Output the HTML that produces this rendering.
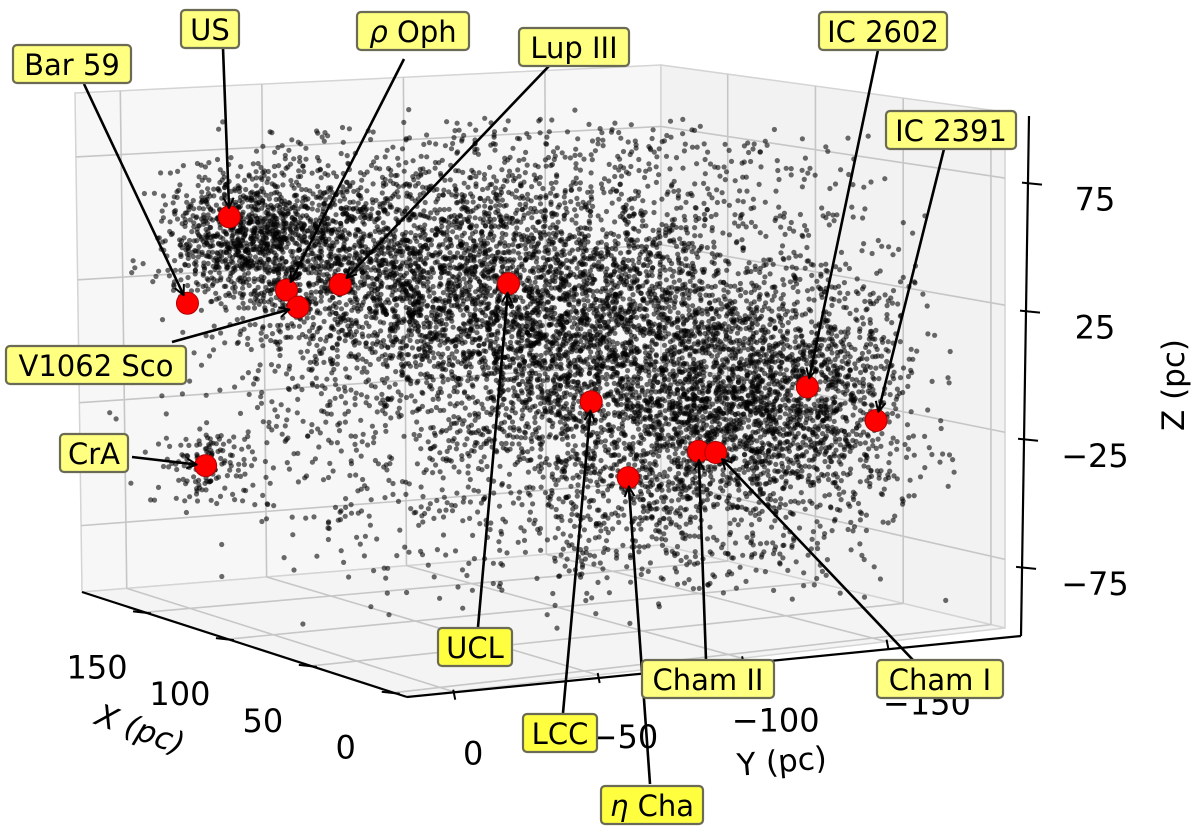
<!DOCTYPE html>
<html><head><meta charset="utf-8"><style>
html,body{margin:0;padding:0;background:#fff;}
svg{display:block;font-family:"DejaVu Sans","Liberation Sans",sans-serif;}
</style></head><body>
<svg id="chart" width="1200" height="835" viewBox="0 0 1200 835">
<defs>
<marker id="ah" viewBox="0 0 12 12" refX="11" refY="6" markerWidth="12" markerHeight="12" markerUnits="userSpaceOnUse" orient="auto">
<polyline points="1,1 11,6 1,11" fill="none" stroke="#000" stroke-width="2"/>
</marker>
</defs>
<g id="panes"></g>
<g id="grid"></g>
<g id="axes"></g>
<g id="stars"></g>
<g id="clusters"></g>
<g id="annots"></g>
</svg>
<script>
// ---- axis ranges ----
const xRange = [-8, 188];
const yRange = [-191, 16];
const zRange = [-102, 101];
const xTicks = [0, 50, 100, 150];
const yTicks = [0, -50, -100, -150];
const zTicks = [75, 25, -25, -75];
const xTickLabels = ["0", "50", "100", "150"];
const yTickLabels = ["0", "\u221250", "\u2212100", "\u2212150"];
const zTickLabels = ["75", "25", "\u221225", "\u221275"];

// ---- named clusters (pc) ----
const clusterNames = ["US","Bar 59","\u03c1 Oph","V1062 Sco","Lup III","CrA","UCL","LCC","\u03b7 Cha","Cham II","Cham I","IC 2602","IC 2391"];
const clusterX = [140, 140, 140, 140, 140, 140, 90, 90, 90, 41, 41, 41, 41];
const clusterY = [-9, 6, -29, -33, -48, 0, -77, -106, -119, -114, -120, -152, -176];
const clusterZ = [53, 20, 23, 16, 24, -44, 28, -20, -51, -33, -34, -11, -26];

// ---- stellar population components (pc) ----
const popX = [140, 130, 100, 80, 45, 40, 90, 140, 60, 90];
const popY = [-15, -45, -75, -100, -125, -150, -90, 0, -140, -100];
const popZ = [45, 35, 25, 5, -25, -8, 0, -44, -30, 30];
const popSigma = [13, 20, 26, 24, 24, 20, 60, 7, 34, 45];
const popCount = [800, 1100, 1300, 1300, 1100, 800, 2600, 120, 1000, 900];

// ---- projection (trilinear between box corners) ----
const cB0=[407,697], cA0=[82,592], cC0=[1005,628], cD0=[661,545];
const cB1=[412,110], cA1=[75,93], cC1=[1005,112], cD1=[661,65];
function proj(X,Y,Z){
  const u=(X-xRange[0])/(xRange[1]-xRange[0]);
  const v=(Y-yRange[0])/(yRange[1]-yRange[0]);
  const w=(Z-zRange[0])/(zRange[1]-zRange[0]);
  const bl=(P,Q,R,S)=>[0,1].map(i=>(1-u)*(1-v)*P[i]+u*(1-v)*Q[i]+(1-u)*v*R[i]+u*v*S[i]);
  const b=bl(cC0,cD0,cB0,cA0), t=bl(cC1,cD1,cB1,cA1);
  return [(1-w)*b[0]+w*t[0],(1-w)*b[1]+w*t[1]];
}
const NS="http://www.w3.org/2000/svg";
function mk(tag,attrs,parent){const e=document.createElementNS(NS,tag);for(const k in attrs)e.setAttribute(k,attrs[k]);parent.appendChild(e);return e;}
const gP=document.getElementById('panes'),gG=document.getElementById('grid'),gA=document.getElementById('axes'),
gS=document.getElementById('stars'),gC=document.getElementById('clusters'),gN=document.getElementById('annots');
const [x0,x1]=xRange,[y0,y1]=yRange,[z0,z1]=zRange;
function poly(pts,fill,parent,name){const e=mk('polygon',{points:pts.map(p=>p.join(',')).join(' '),fill:fill,stroke:'#d4d4d4','stroke-width':1.5},parent);

}
poly([proj(x1,y1,z0),proj(x1,y0,z0),proj(x1,y0,z1),proj(x1,y1,z1)],'#f7f7f7',gP,'left-pane');
poly([proj(x1,y0,z0),proj(x0,y0,z0),proj(x0,y0,z1),proj(x1,y0,z1)],'#f2f2f2',gP,'right-pane');
poly([proj(x1,y1,z0),proj(x0,y1,z0),proj(x0,y0,z0),proj(x1,y0,z0)],'#f4f4f4',gP,'floor-pane');
function line(p,q,stroke,sw,parent,name){const e=mk('line',{x1:p[0],y1:p[1],x2:q[0],y2:q[1],stroke:stroke,'stroke-width':sw},parent);

return e;}
const gc='#c6c6c6';
yTicks.forEach(y=>{line(proj(x1,y,z0),proj(x1,y,z1),gc,1.6,gG,'grid-left-vertical');line(proj(x1,y,z0),proj(x0,y,z0),gc,1.6,gG,'grid-floor-y');});
xTicks.forEach(x=>{line(proj(x,y0,z0),proj(x,y0,z1),gc,1.6,gG,'grid-right-vertical');line(proj(x,y1,z0),proj(x,y0,z0),gc,1.6,gG,'grid-floor-x');});
zTicks.forEach(z=>{line(proj(x1,y1,z),proj(x1,y0,z),gc,1.6,gG,'grid-left-horizontal');line(proj(x1,y0,z),proj(x0,y0,z),gc,1.6,gG,'grid-right-horizontal');});

// axes
line(proj(x1,y1,z0),proj(x0,y1,z0),'#000',2.2,gA,'x-axis-line');
line(proj(x0,y1,z0),[1021,636],'#000',2.2,gA,'y-axis-line');
line([1021,636],[1029,116],'#000',2.2,gA,'z-axis-line');
function txt(s,x,y,size,parent,name,extra){const e=mk('text',Object.assign({x:x,y:y,'font-size':size,'text-anchor':'middle','dominant-baseline':'central',fill:'#000'},extra||{}),parent);e.textContent=s;

return e;}
xTicks.forEach((x,i)=>{const p=proj(x,y1,z0);line([p[0]-12,p[1]-1],[p[0]+6,p[1]+1],'#000',2,gA,'x-tick');
txt(xTickLabels[i],p[0]-48,p[1]+55,32,gA,'x-tick-label');});
yTicks.forEach((y,i)=>{const p=proj(x0,y,z0);const v=(y-y0)/(y1-y0);line([p[0],p[1]-2],[p[0]+2,p[1]+8],'#000',2,gA,'y-tick');
txt(yTickLabels[i],p[0]+20+(0.923-v)*28,p[1]+62,32,gA,'y-tick-label');});
zTicks.forEach((z,i)=>{const t=(z-z0)/(z1-z0);const y=636-520*t,x=1021+8*t;line([x-6,y],[x+14,y+2],'#000',2,gA,'z-tick');
txt(zTickLabels[i],1095,y+17,32,gA,'z-tick-label');});
txt('X (pc)',140,730,31,gA,'x-axis-title',{transform:'rotate(20 140 730)','font-style':'italic'});
txt('Y (pc)',782,762,31,gA,'y-axis-title',{transform:'rotate(-5 782 762)'});
txt('Z (pc)',1174,385,31,gA,'z-axis-title',{transform:'rotate(-90 1174 385)'});

// stars
let seed=12345;
function rnd(){seed|=0;seed=seed+0x6D2B79F5|0;let t=Math.imul(seed^seed>>>15,1|seed);t=t+Math.imul(t^t>>>7,61|t)^t;return((t^t>>>14)>>>0)/4294967296;}
function gauss(){let u=0;while(u===0)u=rnd();return Math.sqrt(-2*Math.log(u))*Math.cos(2*Math.PI*rnd());}
let frag='';
for(let k=0;k<popX.length;k++){
  for(let n=0;n<popCount[k];n++){
    const X=popX[k]+gauss()*popSigma[k]*0.8,Y=popY[k]+gauss()*popSigma[k]*1.2,Z=popZ[k]+gauss()*popSigma[k];
    if(X<x0||X>x1||Y<y0+5||Y>y1||Z<z0+10||Z>z1-12)continue;
    const p=proj(X,Y,Z);
    frag+='<circle cx="'+p[0].toFixed(1)+'" cy="'+p[1].toFixed(1)+'" r="2.6"/>';
  }
}
gS.setAttribute('fill','rgba(0,0,0,0.58)');
gS.innerHTML=frag;

// clusters
const clusterPix=[];
clusterNames.forEach((nm,i)=>{const p=proj(clusterX[i],clusterY[i],clusterZ[i]);clusterPix.push(p);
const c=mk('circle',{cx:p[0],cy:p[1],r:11,fill:'#ff0000',stroke:'#b00000','stroke-width':1},gC);

});

// annotations: label box centers and widths are layout
const labCx=[210,72,413,96,574,94,475,560,652,708,940,883,951];
const labCy=[29,64,31,365,47,453,647,733,805,679,679,31,130];
const labW=[58,118,112,180,110,68,74,74,102,132,126,128,130];
const labFill=['#ffff80','#ffff80','#ffff80','#ffff80','#ffff80','#ffff80','#ffff40','#ffff40','#ffff40','#ffff80','#ffff80','#ffff80','#ffff80'];
const arrStart=[[223,48],[84,84],[404,59],[172,342],[549,66],[132,457],[478,627],[563,713],[650,784],[706,660],[913,660],[878,50],[944,149]];
clusterNames.forEach((nm,i)=>{
  const p=clusterPix[i],s=arrStart[i];
  const dx=p[0]-s[0],dy=p[1]-s[1],L=Math.hypot(dx,dy);
  const e=[p[0]-dx/L*9,p[1]-dy/L*9];
  const a=mk('line',{x1:s[0],y1:s[1],x2:e[0],y2:e[1],stroke:'#000','stroke-width':2.6,'marker-end':'url(#ah)'},gN);
  
  
});
clusterNames.forEach((nm,i)=>{
  const w=labW[i],h=38;
  const r=mk('rect',{x:labCx[i]-w/2,y:labCy[i]-h/2,width:w,height:h,rx:4,fill:labFill[i],stroke:'#6b6b55','stroke-width':2.2},gN);
  
  
  const t=txt('',labCx[i],labCy[i]+1,29,gN,'annotation-label');
  if(nm[0]==='\u03c1'||nm[0]==='\u03b7'){
    const t1=mk('tspan',{'font-style':'italic'},t);t1.textContent=nm[0];
    const t2=mk('tspan',{},t);t2.textContent=nm.slice(1);
  } else t.textContent=nm;
});
</script>
</body></html>
